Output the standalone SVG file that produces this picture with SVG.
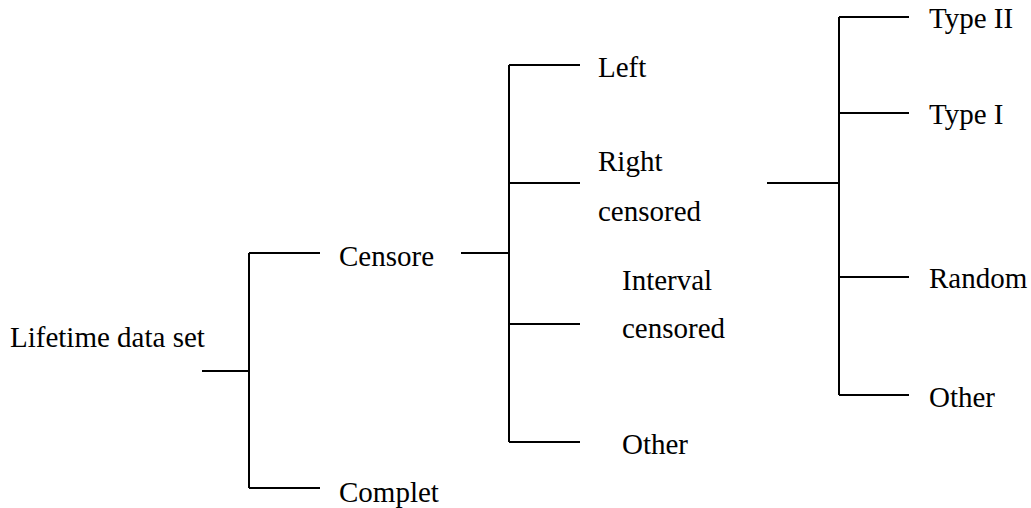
<svg xmlns="http://www.w3.org/2000/svg" width="1031" height="508" viewBox="0 0 1031 508">
<style>
.t text{font-family:'Liberation Serif','Times New Roman','DejaVu Serif',serif;font-size:29px;fill:#000}
.c line{stroke:#000;stroke-width:2}
</style>
<rect width="1031" height="508" fill="#fff"/>
<g class="c" id="connectors">
<line x1="202" y1="371" x2="249" y2="371"/>
<line x1="249" y1="253" x2="249" y2="488"/>
<line x1="249" y1="253" x2="320" y2="253"/>
<line x1="249" y1="488" x2="320" y2="488"/>
<line x1="461" y1="253" x2="509" y2="253"/>
<line x1="509" y1="65" x2="509" y2="442"/>
<line x1="509" y1="65" x2="580" y2="65"/>
<line x1="509" y1="183" x2="580" y2="183"/>
<line x1="509" y1="324" x2="580" y2="324"/>
<line x1="509" y1="442" x2="580" y2="442"/>
<line x1="767" y1="183" x2="839" y2="183"/>
<line x1="839" y1="17" x2="839" y2="395"/>
<line x1="839" y1="17" x2="909" y2="17"/>
<line x1="839" y1="113" x2="909" y2="113"/>
<line x1="839" y1="277" x2="909" y2="277"/>
<line x1="839" y1="395" x2="909" y2="395"/>
</g>
<g class="t" font-family="Liberation Serif, serif">
<g id="n-lifetime"><text x="10" y="347">Lifetime data set</text></g>
<g id="n-censore"><text x="339" y="266">Censore</text></g>
<g id="n-complet"><text x="339" y="502">Complet</text></g>
<g id="n-left"><text x="598" y="77">Left</text></g>
<g id="n-right"><text x="598" y="171">Right</text><text x="598" y="221">censored</text></g>
<g id="n-interval"><text x="622" y="290">Interval</text><text x="622" y="338">censored</text></g>
<g id="n-other1"><text x="622" y="454">Other</text></g>
<g id="n-type2"><text x="929" y="28">Type II</text></g>
<g id="n-type1"><text x="929" y="124">Type I</text></g>
<g id="n-random"><text x="929" y="288">Random</text></g>
<g id="n-other2"><text x="929" y="407">Other</text></g>
</g>
</svg>
